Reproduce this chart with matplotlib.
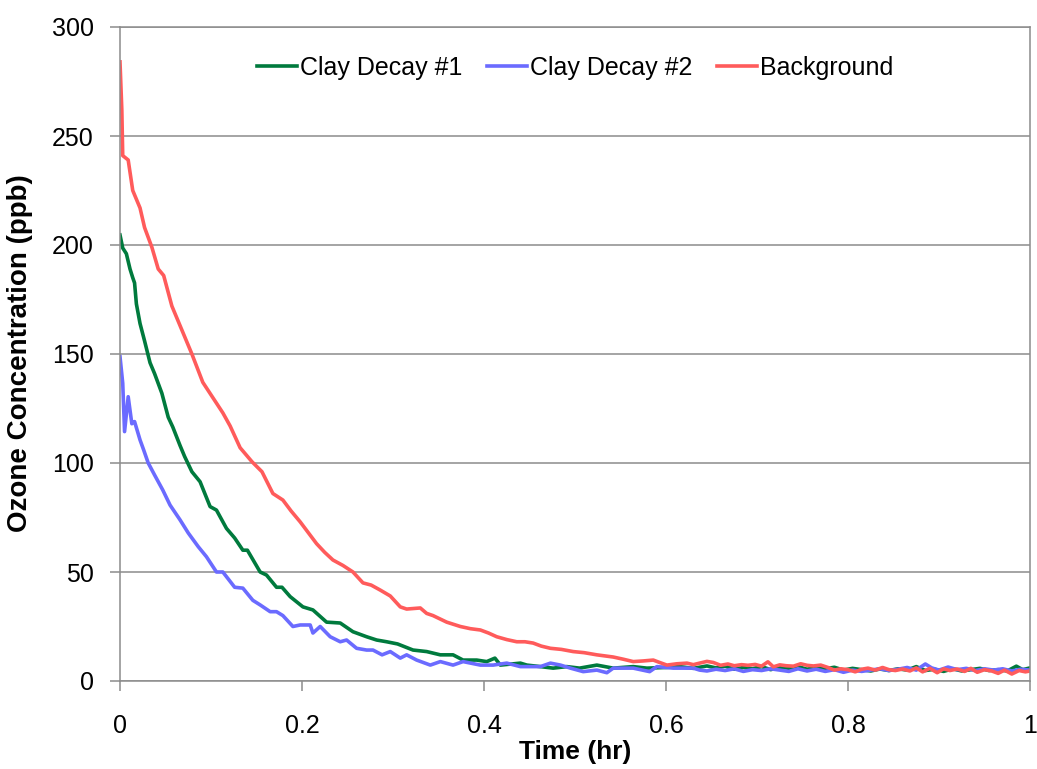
import matplotlib
matplotlib.use("Agg")
import matplotlib.pyplot as plt

plt.rcParams['font.family'] = ['Liberation Sans', 'DejaVu Sans']

# ---------------- data ----------------
red_x = [0.000, 0.002, 0.003, 0.006, 0.009, 0.014, 0.022, 0.027, 0.035, 0.042, 0.048,
         0.057, 0.068, 0.079, 0.091, 0.102, 0.113, 0.121, 0.132, 0.145, 0.156, 0.168,
         0.179, 0.188, 0.198, 0.207, 0.216, 0.225, 0.234, 0.245, 0.256, 0.267, 0.276,
         0.286, 0.297, 0.308, 0.315, 0.330, 0.337, 0.344, 0.359, 0.374, 0.385, 0.396,
         0.405, 0.414, 0.425, 0.436, 0.445, 0.454, 0.463, 0.473, 0.485, 0.498, 0.510,
         0.524, 0.533, 0.542, 0.553, 0.564, 0.575, 0.586, 0.593, 0.601, 0.612, 0.623,
         0.630, 0.637, 0.645, 0.652, 0.660, 0.668, 0.675, 0.683, 0.690, 0.698, 0.705,
         0.712, 0.718, 0.725, 0.732, 0.740, 0.748, 0.755, 0.762, 0.770, 0.778, 0.785,
         0.792, 0.800, 0.808, 0.815, 0.822, 0.830, 0.838, 0.845, 0.852, 0.860, 0.868,
         0.875, 0.882, 0.890, 0.898, 0.905, 0.912, 0.920, 0.928, 0.935, 0.942, 0.950,
         0.958, 0.965, 0.972, 0.980, 0.988, 0.995, 1.000]
red_y = [284, 262, 241, 240, 239, 225, 217, 208, 199, 189, 186,
         172, 161, 150, 137, 130, 123, 117, 107, 100.6, 96, 86,
         83, 78, 73, 68, 63, 59, 55.5, 53, 50, 45, 44,
         41.7, 39, 34, 33, 33.5, 31, 30, 27, 25, 24, 23.4,
         22, 20.3, 19, 18, 18, 17.4, 16, 15, 14.5, 13.5, 13,
         12, 11.5, 11, 10, 8.9, 9.2, 9.6, 8.5, 7.3, 7.9, 8.2,
         7.5, 8.2, 9.0, 8.5, 7.2, 7.8, 7.0, 7.5, 7.2, 7.6, 6.8,
         8.8, 6.5, 7.4, 7.0, 6.8, 7.9, 7.2, 6.9, 7.3, 6.2, 5.0,
         5.6, 5.2, 4.2, 5.4, 5.9, 5.0, 6.2, 5.2, 4.8, 5.5, 4.6,
         6.0, 4.2, 5.8, 3.8, 5.6, 4.8, 5.5, 4.4, 5.8, 4.0, 5.2,
         4.6, 3.5, 5.0, 3.2, 4.8, 4.2, 4.6]

green_x = [0.000, 0.003, 0.007, 0.011, 0.014, 0.016, 0.018, 0.022, 0.027, 0.033, 0.038,
           0.046, 0.053, 0.058, 0.066, 0.071, 0.079, 0.088, 0.099, 0.106, 0.117, 0.126,
           0.135, 0.140, 0.154, 0.161, 0.172, 0.178, 0.187, 0.201, 0.212, 0.227, 0.242,
           0.256, 0.271, 0.282, 0.293, 0.305, 0.322, 0.337, 0.352, 0.366, 0.377, 0.392,
           0.403, 0.412, 0.418, 0.440, 0.447, 0.462, 0.476, 0.491, 0.505, 0.524, 0.542,
           0.564, 0.579, 0.600, 0.615, 0.630, 0.645, 0.655, 0.665, 0.675, 0.685, 0.695,
           0.705, 0.715, 0.725, 0.735, 0.745, 0.755, 0.765, 0.775, 0.785, 0.795, 0.805,
           0.815, 0.825, 0.835, 0.845, 0.855, 0.865, 0.875, 0.885, 0.895, 0.905, 0.915,
           0.925, 0.935, 0.945, 0.955, 0.965, 0.975, 0.985, 0.992, 1.000]
green_y = [204.6, 198.6, 196, 189, 185, 182.6, 173, 164, 156, 146, 141,
           132, 121, 116.5, 108, 103, 96, 91.4, 80, 78.4, 70, 65.6,
           60, 60, 50, 48.6, 43, 43, 38.7, 34, 32.6, 27, 26.6,
           22.6, 20.3, 18.8, 18, 17, 14.2, 13.5, 12, 12, 9.6, 9.6,
           8.9, 10.5, 7.3, 8.2, 7.3, 6.6, 5.9, 6.6, 5.9, 7.3, 5.9,
           6.6, 5.9, 6.2, 6.6, 5.8, 6.9, 6.0, 6.8, 5.4, 6.2, 5.6,
           6.6, 5.2, 6.4, 5.8, 6.6, 5.4, 6.2, 5.6, 6.3, 5.0, 5.8,
           5.2, 4.6, 5.5, 4.8, 5.6, 5.0, 6.6, 4.8, 5.4, 4.4, 5.6,
           4.6, 5.2, 5.8, 4.8, 5.2, 4.6, 6.8, 5.2, 6.0]

blue_x = [0.000, 0.003, 0.005, 0.009, 0.013, 0.016, 0.022, 0.026, 0.031, 0.038, 0.047,
          0.055, 0.066, 0.075, 0.086, 0.095, 0.106, 0.113, 0.126, 0.135, 0.146, 0.154,
          0.165, 0.172, 0.179, 0.190, 0.198, 0.209, 0.212, 0.220, 0.231, 0.242, 0.249,
          0.260, 0.271, 0.278, 0.288, 0.297, 0.308, 0.315, 0.326, 0.341, 0.352, 0.366,
          0.377, 0.396, 0.410, 0.425, 0.440, 0.462, 0.473, 0.484, 0.495, 0.509, 0.524,
          0.535, 0.542, 0.564, 0.582, 0.590, 0.608, 0.630, 0.637, 0.645, 0.655, 0.665,
          0.675, 0.685, 0.695, 0.705, 0.715, 0.725, 0.735, 0.745, 0.755, 0.765, 0.775,
          0.785, 0.795, 0.805, 0.815, 0.825, 0.835, 0.845, 0.855, 0.865, 0.875, 0.885,
          0.892, 0.900, 0.910, 0.920, 0.930, 0.940, 0.950, 0.960, 0.970, 0.980, 0.990,
          1.000]
blue_y = [148.8, 136.6, 114.4, 130.4, 118, 119, 110.6, 106, 100, 94.5, 87.6,
          80.7, 73.9, 67.9, 61.6, 57, 50, 50, 43, 42.6, 37, 34.9,
          31.8, 31.8, 30, 25, 25.7, 25.7, 22, 25, 20.3, 18, 18.8,
          15, 14.2, 14.2, 12, 13.5, 10.5, 12, 9.6, 7.3, 8.9, 7.3,
          8.9, 7.3, 7.3, 8.2, 6.6, 6.6, 8.2, 7.3, 5.9, 4.3, 5.0,
          3.8, 5.9, 5.9, 4.3, 6.6, 5.9, 5.9, 5.0, 4.6, 5.4, 4.8,
          5.6, 4.4, 5.2, 4.8, 5.6, 5.0, 4.4, 5.6, 4.6, 5.4, 4.4,
          5.2, 4.0, 5.0, 4.4, 5.0, 5.6, 4.8, 5.4, 6.2, 5.0, 7.8,
          6.0, 5.0, 6.4, 5.2, 5.8, 4.8, 5.6, 5.0, 5.6, 4.6, 5.4,
          5.0]

series_names = ["Clay Decay #1", "Clay Decay #2", "Background"]
x_ticks = [0, 0.2, 0.4, 0.6, 0.8, 1.0]
x_tick_labels = ["0", "0.2", "0.4", "0.6", "0.8", "1"]
y_ticks = [0, 50, 100, 150, 200, 250, 300]

# ---------------- plot ----------------
W, H = 1037, 769
fig = plt.figure(figsize=(W / 100, H / 100), dpi=100)
ax = fig.add_axes([120 / W, 1 - 681 / H, (1030 - 120) / W, (681 - 27) / H])

lw = 2.6
ax.plot(green_x, green_y, color='#007A3D', lw=lw, label=series_names[0])
ax.plot(blue_x, blue_y, color='#6B6BFF', lw=lw, label=series_names[1])
ax.plot(red_x, red_y, color='#FF5B5B', lw=lw, label=series_names[2])

ax.set_xlim(0, 1)
ax.set_ylim(0, 300)
ax.set_xticks(x_ticks)
ax.set_xticklabels(x_tick_labels)
ax.set_yticks(y_ticks)
ax.yaxis.grid(True, color='#8C8C8C', lw=1.1)
ax.set_axisbelow(True)
for s in ax.spines.values():
    s.set_color('#8C8C8C')
    s.set_linewidth(1.1)
ax.tick_params(axis='both', direction='out', length=7, width=1.1, color='#8C8C8C',
               labelsize=18, labelcolor='black')
ax.tick_params(axis='x', pad=17)
ax.tick_params(axis='y', pad=12)

fig.text(575 / W, 1 - 752 / H, "Time (hr)", fontsize=19, fontweight='bold',
         ha='center', va='center')
fig.text(20 / W, 1 - 353 / H, "Ozone Concentration (ppb)", fontsize=20,
         fontweight='bold', rotation=90, ha='center', va='center')

leg = ax.legend(loc='upper center', bbox_to_anchor=(0.5, 0.99), ncol=3, frameon=False,
                fontsize=18, handlelength=1.6, handletextpad=0.1, columnspacing=1.0)

fig.savefig("out.png", dpi=100)
